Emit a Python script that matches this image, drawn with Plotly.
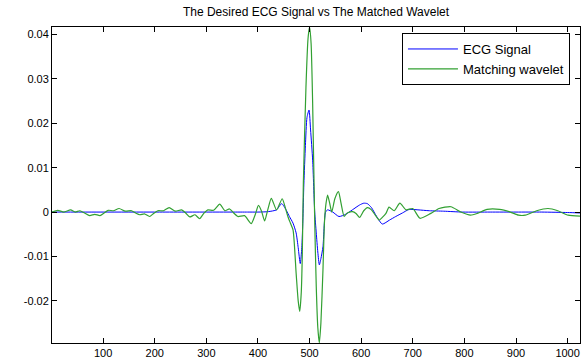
import plotly.graph_objects as go

# ECG signal (blue)
ecg_x = [1, 100, 200, 300, 350, 380, 400, 420, 436, 446, 455, 461, 468, 474, 478, 482, 485, 487,
         489, 492, 495, 499, 502, 506, 510, 513, 516, 519, 522, 526, 531, 535, 545, 557, 570, 583,
         597, 605, 612, 620, 630, 641, 655, 667, 680, 693, 710, 732, 760, 797, 850, 900, 950, 1000, 1024]
ecg_y = [0, 0, 0, 0, 0, 0, 0, 0.0001, 0.0005, 0.0019, 0.0004, -0.001, -0.0025, -0.0047, -0.008, -0.0116,
         -0.008, -0.002, 0.0063, 0.015, 0.0213, 0.023, 0.0185, 0.0117, 0.0, -0.0047, -0.009, -0.0119,
         -0.0105, -0.0078, 0.0, 0.0005, 0.0, -0.001, -0.0005, 0.0005, 0.0016, 0.002, 0.0019, 0.001,
         -0.001, -0.0027, -0.0018, -0.001, -0.0002, 0.0006, 0.0005, 0.0003, 0.0002, 0.0, 0.0, 0.0,
         0.0, -0.0001, -0.0002]

# Matching wavelet (green)
wav_x = [1, 12, 24, 37, 46, 55, 64, 74, 84, 94, 102, 110, 120, 131, 143, 155, 163, 171, 180, 190,
         198, 206, 217, 228, 240, 252, 260, 268, 278, 287, 295, 303, 314, 326, 336, 345, 353, 361,
         374, 387, 395, 401, 407, 413, 419, 426, 436, 447, 453, 458, 463, 468, 474, 478, 481, 484,
         486, 488, 493, 497, 500, 503, 506, 510, 513, 516, 519, 522, 526, 529, 532, 535, 539, 543,
         549, 556, 561, 567, 572, 577, 583, 590, 597, 605, 612, 620, 628, 635, 641, 648, 654, 664,
         675, 687, 700, 714, 735, 751, 774, 793, 812, 825, 844, 868, 889, 905, 918, 940, 962, 981,
         1001, 1024]
wav_y = [0, 0.0004, 0, 0.0005, 0, 0.0003, -0.0002, -0.0008, -0.0005, -0.0008, -0.0002, 0.0004,
         0.0003, 0.0008, 0.0002, 0.0003, -0.0002, -0.0006, -0.0004, -0.001, -0.0003, 0.0003, 0.0003,
         0.001, 0.0002, 0.0005, -0.0002, -0.0011, -0.0006, -0.0015, -0.0003, 0.0005, 0.0004, 0.0018,
         0.0003, 0.0007, -0.0002, -0.001, -0.0008, -0.0026, -0.0005, 0.0015, 0.0002, -0.002, 0.0005,
         0.0031, 0.0005, 0.003, 0.001, -0.001, -0.0025, -0.004, -0.0138, -0.02, -0.0224, -0.018,
         -0.0093, 0.0065, 0.028, 0.039, 0.0417, 0.038, 0.0245, -0.002, -0.0168, -0.026, -0.0295,
         -0.025, -0.013, -0.002, 0.002, 0.0038, 0.002, 0.0, 0.003, 0.0046, 0.002, -0.001, -0.0003,
         0.0, 0.0001, -0.0003, -0.0012, 0.0003, 0.001, 0.0005, -0.0008, -0.0018, -0.0012, -0.0003,
         0.0011, 0.0003, 0.002, 0.0005, 0.0008, -0.0014, -0.0003, 0.0008, 0.0012, 0.0, -0.0007,
         -0.0003, 0.0006, 0.0006, 0.0, -0.0007, -0.0007, 0.0003, 0.0008, 0.0003, -0.0007, -0.0009]

x_ticks = [100, 200, 300, 400, 500, 600, 700, 800, 900, 1000]
x_labels = ["100", "200", "300", "400", "500", "600", "700", "800", "900", "1000"]
y_ticks = [-0.02, -0.01, 0, 0.01, 0.02, 0.03, 0.04]
y_labels = ["-0.02", "-0.01", "0", "0.01", "0.02", "0.03", "0.04"]

fig = go.Figure()
fig.add_trace(go.Scatter(x=ecg_x, y=ecg_y, mode="lines", name="ECG Signal",
                         line=dict(color="rgb(0,0,255)", width=1, shape="spline", smoothing=0.6)))
fig.add_trace(go.Scatter(x=wav_x, y=wav_y, mode="lines", name="Matching wavelet",
                         line=dict(color="rgb(50,160,50)", width=1.2, shape="spline", smoothing=0.6)))

axis_common = dict(showline=True, linecolor="black", linewidth=1, mirror="allticks",
                   ticks="inside", ticklen=5, tickcolor="black", showgrid=False, zeroline=False,
                   tickfont=dict(family="Liberation Sans, Arial", size=11, color="black"))

fig.update_layout(
    width=582, height=364,
    margin=dict(l=52, r=2, t=27, b=21),
    paper_bgcolor="white", plot_bgcolor="white",
    title=dict(text="The Desired ECG Signal vs The Matched Wavelet", x=0.5, xref="paper",
               y=1 - 12 / 364, yref="container", yanchor="middle", xanchor="center",
               font=dict(family="Liberation Sans, Arial", size=12, color="black")),
    xaxis=dict(range=[1, 1024], tickvals=x_ticks, ticktext=x_labels, **axis_common),
    yaxis=dict(range=[-0.0295, 0.0417], tickvals=y_ticks, ticktext=y_labels, **axis_common),
    legend=dict(x=0.981, y=0.981, xanchor="right", yanchor="top", bgcolor="white",
                bordercolor="black", borderwidth=1, tracegroupgap=0, itemwidth=50,
                font=dict(family="Liberation Sans, Arial", size=13, color="black")),
    showlegend=True,
)

fig.write_html("out.html", config={"displayModeBar": False},
               post_script="document.body.style.margin='0px';document.body.style.overflow='hidden';")
